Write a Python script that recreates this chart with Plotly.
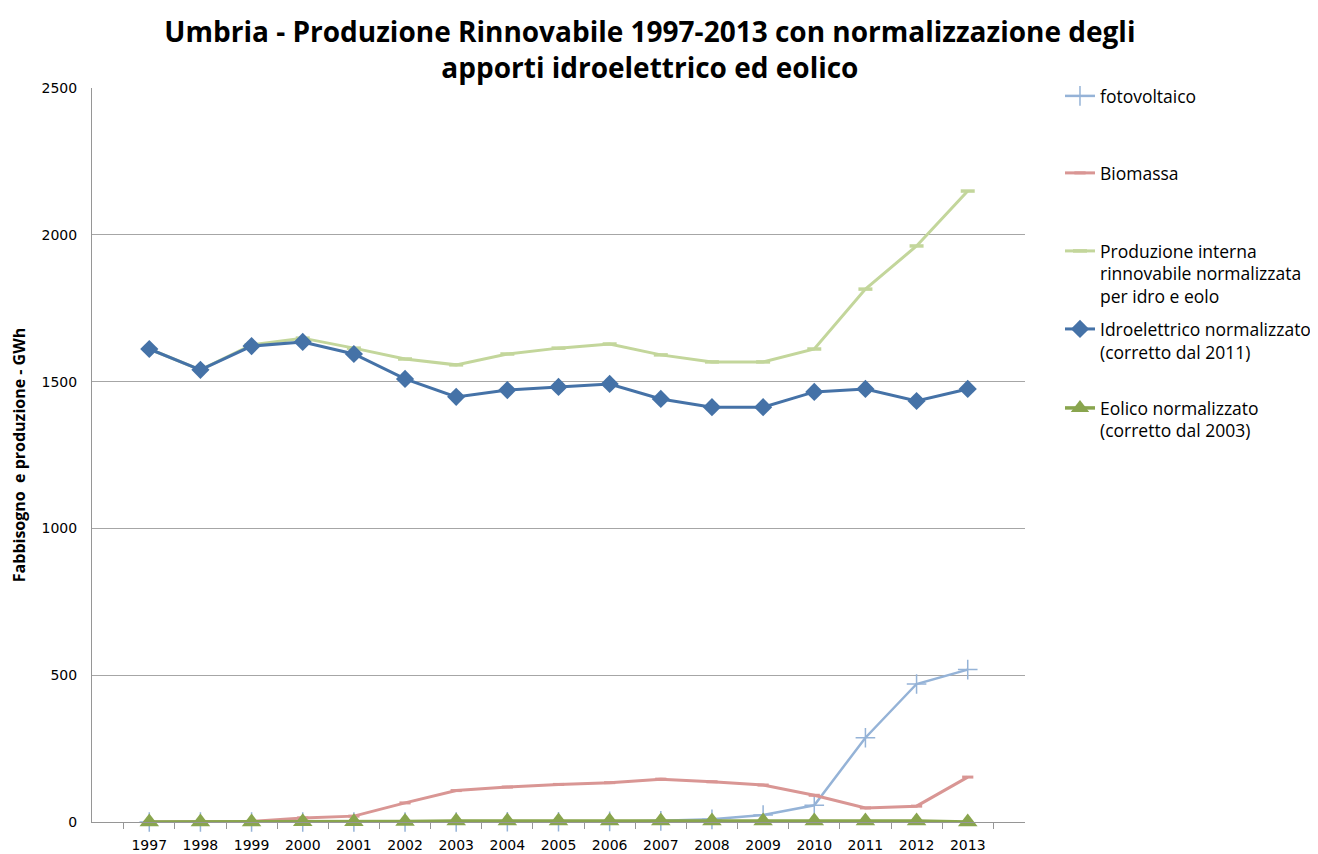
import plotly.graph_objects as go

years = [str(y) for y in range(1997, 2014)]

fotovoltaico = [0, 0, 0, 0, 0, 0, 0, 1, 1, 2, 4, 9, 24, 57, 287, 470, 519]
biomassa = [0, 0, 2, 14, 20, 65, 107, 119, 128, 134, 146, 137, 126, 91, 48, 54, 153]
produzione = [1611, 1540, 1625, 1648, 1614, 1577, 1557, 1594, 1614, 1628, 1591, 1567, 1567, 1611, 1815, 1962, 2149]
idro = [1611, 1540, 1621, 1635, 1594, 1509, 1448, 1471, 1482, 1492, 1441, 1413, 1413, 1465, 1475, 1434, 1475]
eolico = [0, 0, 0, 1, 1, 2, 3, 3, 3, 3, 3, 3, 3, 3, 3, 3, 0]

names = [
    "fotovoltaico",
    "Biomassa",
    "Produzione interna<br>rinnovabile normalizzata<br>per idro e eolo",
    "Idroelettrico normalizzato<br>(corretto dal 2011)",
    "Eolico normalizzato<br>(corretto dal 2003)",
]
title_text = "Umbria - Produzione Rinnovabile 1997-2013 con normalizzazione degli<br>apporti idroelettrico ed eolico"
y_title = "Fabbisogno  e produzione - GWh"
y_ticks = [0, 500, 1000, 1500, 2000, 2500]

series = [
    (fotovoltaico, "#95B3D7", dict(symbol="cross-thin-open", size=14, line=dict(width=1.5, color="#95B3D7")), 2.5),
    (biomassa, "#D99694", dict(symbol="line-ew-open", size=8, line=dict(width=3, color="#D99694")), 3),
    (produzione, "#C3D69B", dict(symbol="line-ew-open", size=10, line=dict(width=3.5, color="#C3D69B")), 3),
    (idro, "#4572A7", dict(symbol="diamond", size=14, color="#4572A7"), 3),
    (eolico, "#89A54E", dict(symbol="triangle-up", size=17, color="#89A54E"), 3.5),
]

legend_tops = [1.0136, 0.9087, 0.8024, 0.6961, 0.5885]

fig = go.Figure()
for i, ((vals, col, mk, lw), nm) in enumerate(zip(series, names)):
    lg = "legend" if i == 0 else f"legend{i+1}"
    fig.add_trace(go.Scatter(
        x=years, y=vals, name=nm, mode="lines+markers",
        line=dict(color=col, width=lw), marker=mk, legend=lg, cliponaxis=False,
    ))

legend_common = dict(
    x=1.0375, xanchor="left", yanchor="top", valign="top",
    font=dict(family="Open Sans", size=17.5, color="#000000"),
    bgcolor="rgba(0,0,0,0)", itemwidth=30,
)
layout_legends = {}
for i, yt in enumerate(legend_tops):
    key = "legend" if i == 0 else f"legend{i+1}"
    layout_legends[key] = dict(legend_common, y=yt)

fig.update_layout(
    width=1310, height=846,
    paper_bgcolor="white", plot_bgcolor="white",
    margin=dict(l=84, r=293, t=80, b=32, autoexpand=False),
    title=dict(text=title_text, x=0.490, xanchor="center", y=0.9598, yanchor="middle",
               font=dict(family="Open Sans", size=28, color="#000000", weight="bold")),
    showlegend=True,
    **layout_legends,
)
fig.update_xaxes(
    type="category", tickson="boundaries", ticks="outside", ticklen=6, tickcolor="#969696",
    showline=True, linecolor="#969696", linewidth=1, showgrid=False, automargin=False,
    ticklabelstandoff=10,
    tickfont=dict(family="DejaVu Sans", size=14, color="#000000"),
)
fig.update_yaxes(
    range=[0, 2500], tickvals=y_ticks, showgrid=True, gridcolor="#A6A6A6", gridwidth=1,
    showline=True, linecolor="#969696", linewidth=1, zeroline=False,
    ticks="outside", ticklen=11, tickcolor="rgba(0,0,0,0)", automargin=False,
    tickfont=dict(family="DejaVu Sans", size=14, color="#000000"),
    title=dict(text=y_title, font=dict(family="Open Sans", size=16, color="#000000", weight="bold"), standoff=36),
)

fig.write_html("out.html")
